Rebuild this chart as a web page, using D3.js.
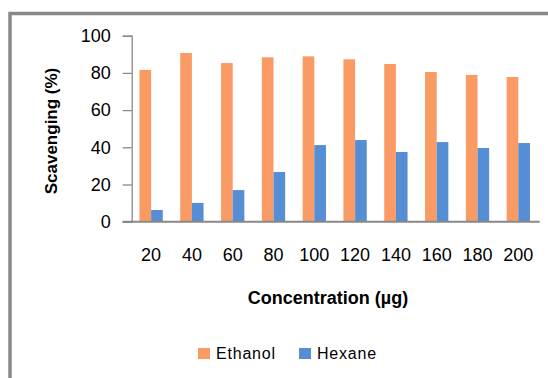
<!DOCTYPE html>
<html>
<head>
<meta charset="utf-8">
<script src="https://cdn.jsdelivr.net/npm/d3@7"></script>
<style>
  body { margin: 0; background: #fff; }
  svg { display: block; font-family: "Liberation Sans", Arial, sans-serif; }
</style>
</head>
<body>
<svg id="chart" width="548" height="378"></svg>
<script>
// data
const concentrations = ["20", "40", "60", "80", "100", "120", "140", "160", "180", "200"];
const ethanol = [81.6, 90.7, 85.3, 88.4, 88.9, 87.3, 84.8, 80.5, 78.9, 77.8];
const hexane = [6.3, 10.1, 17.0, 26.7, 41.2, 43.9, 37.5, 42.8, 39.6, 42.3];
const seriesNames = ["Ethanol", "Hexane"];
const yTicks = [0, 20, 40, 60, 80, 100];

const colors = { Ethanol: "#fa9b66", Hexane: "#558ed5" };

let svg = d3.select("#chart");

// outer frame, cut by the right and bottom edge
svg.append("rect")
    .attr("x", 10).attr("y", 13.5)
    .attr("width", 600).attr("height", 450)
    .attr("fill", "none")
    .attr("stroke", "#888")
    .attr("stroke-width", 3.5);

let x1 = 131.7, x2 = 539.7;
let y1 = 35.7, y2 = 221.7;

let xScale = d3.scaleBand()
    .domain(concentrations)
    .range([x1, x2]);

let xInner = d3.scaleBand()
    .domain(seriesNames)
    .range([0, xScale.bandwidth()])
    .paddingOuter(0.75);

let yScale = d3.scaleLinear()
    .domain([0, 100])
    .range([y2, y1]);

let rows = concentrations.map((c, i) => ({ c: c, Ethanol: ethanol[i], Hexane: hexane[i] }));

// bars
let groups = svg.append("g").selectAll("g")
    .data(rows)
    .join("g")
    .attr("transform", d => "translate(" + (xScale(d.c) - 1) + ",0)");

groups.selectAll("rect")
    .data(d => seriesNames.map(s => ({ s: s, v: d[s] })))
    .join("rect")
    .attr("x", d => xInner(d.s))
    .attr("width", xInner.bandwidth())
    .attr("y", d => yScale(d.v))
    .attr("height", d => y2 - yScale(d.v))
    .attr("fill", d => colors[d.s]);

// y axis
let yAxis = d3.axisLeft(yScale).tickValues(yTicks).tickSize(9).tickPadding(12);
let yg = svg.append("g")
    .attr("transform", "translate(" + x1 + ",0)")
    .call(yAxis);
yg.select(".domain").attr("stroke", "#888").attr("stroke-width", 1.3);
yg.selectAll(".tick line").attr("stroke", "#888").attr("stroke-width", 1.3);
yg.selectAll(".tick text")
    .attr("fill", "#000")
    .style("font-size", "18px");

// x axis
let xAxis = d3.axisBottom(xScale).tickSize(0).tickPadding(27);
let xg = svg.append("g")
    .attr("transform", "translate(0," + y2 + ")")
    .call(xAxis);
xg.select(".domain").remove();
xg.append("line")
    .attr("x1", x1 - 9).attr("x2", x2)
    .attr("stroke", "#888").attr("stroke-width", 2);
xg.selectAll(".tick text")
    .attr("fill", "#000")
    .attr("dx", -1)
    .style("font-size", "18px");

// axis titles
svg.append("text")
    .attr("transform", "translate(57,131) rotate(-90)")
    .attr("text-anchor", "middle")
    .style("font-size", "17px")
    .style("font-weight", "bold")
    .text("Scavenging (%)");

svg.append("text")
    .attr("x", 328).attr("y", 304)
    .attr("text-anchor", "middle")
    .style("font-size", "18px")
    .style("font-weight", "bold")
    .text("Concentration (µg)");

// legend
let legendX = [198, 299];
let legend = svg.append("g").selectAll("g")
    .data(seriesNames)
    .join("g")
    .attr("transform", (d, i) => "translate(" + legendX[i] + ",348)");
legend.append("rect")
    .attr("width", 12).attr("height", 11)
    .attr("fill", d => colors[d]);
legend.append("text")
    .attr("x", 18).attr("y", 11)
    .style("font-size", "16px")
    .style("letter-spacing", "0.8px")
    .text(d => d);
</script>
</body>
</html>
